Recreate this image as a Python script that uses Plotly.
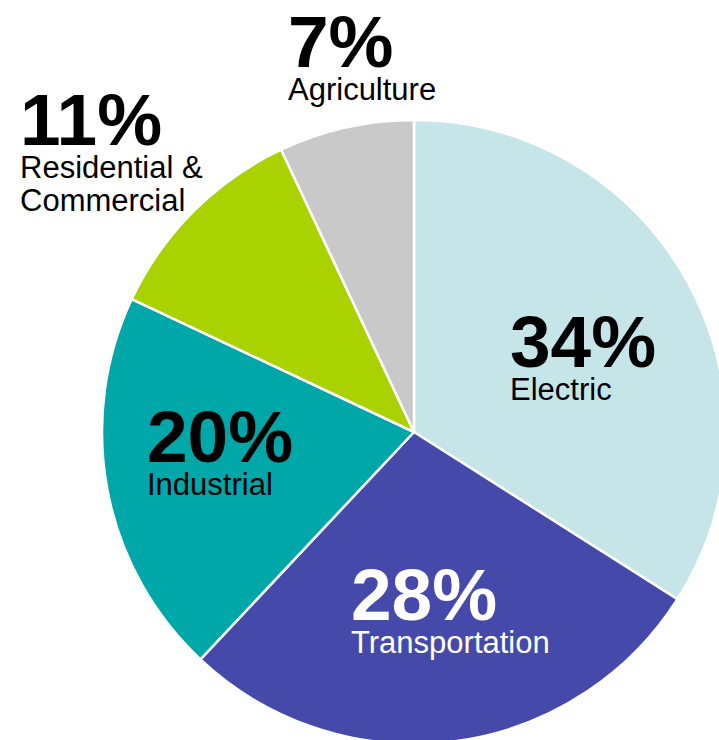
import plotly.graph_objects as go

# Share of emissions by economic sector
sectors = ["Electric", "Transportation", "Industrial", "Residential &<br>Commercial", "Agriculture"]
shares = [34, 28, 20, 11, 7]
colors = ["#C5E5E8", "#454AAA", "#00A7A8", "#AAD200", "#C9C9C9"]

# Label blocks: left edge (px), baseline of the percentage line (px), text colour
label_left = [508, 349, 145, 18, 286]
pct_base = [367, 620, 462, 145, 67]
label_color = ["#000000", "#FFFFFF", "#000000", "#000000", "#000000"]

# The pie runs slightly past the right and bottom edges of the visible area
W, H = 728, 746
CX, CY, R = 414, 432, 312
FONT = "Liberation Sans, Arial, sans-serif"
PCT_SIZE = 73
NAME_SIZE = 31
BASE_SIZE = 25.5  # sets the line pitch (1.3 x base) inside each label block

fig = go.Figure(
    go.Pie(
        labels=sectors,
        values=shares,
        sort=False,
        direction="clockwise",
        rotation=0,
        marker=dict(colors=colors, line=dict(color="#FFFFFF", width=2.5)),
        textinfo="none",
        hoverinfo="label+percent",
        domain=dict(
            x=[(CX - R) / W, min(1.0, (CX + R) / W)],
            y=[max(0.0, 1 - (CY + R) / H), 1 - (CY - R) / H],
        ),
        showlegend=False,
    )
)


def px(x):
    return x / W


def py(y):
    return 1 - y / H


for name, share, left, base, col in zip(sectors, shares, label_left, pct_base, label_color):
    lines = [f"<span style='font-size:{PCT_SIZE}px'><b>{share}%</b></span>"]
    lines += [f"<span style='font-size:{NAME_SIZE}px'>{part}</span>" for part in name.split("<br>")]
    top = base - 0.905 * PCT_SIZE - 2
    fig.add_annotation(
        x=px(left), y=py(top), xref="paper", yref="paper",
        xanchor="left", yanchor="top", align="left", showarrow=False,
        text="<br>".join(lines),
        font=dict(family=FONT, size=BASE_SIZE, color=col),
    )

fig.update_layout(
    width=W,
    height=H,
    margin=dict(l=0, r=0, t=0, b=0),
    paper_bgcolor="#FFFFFF",
    plot_bgcolor="#FFFFFF",
)

fig.write_html("out.html")
